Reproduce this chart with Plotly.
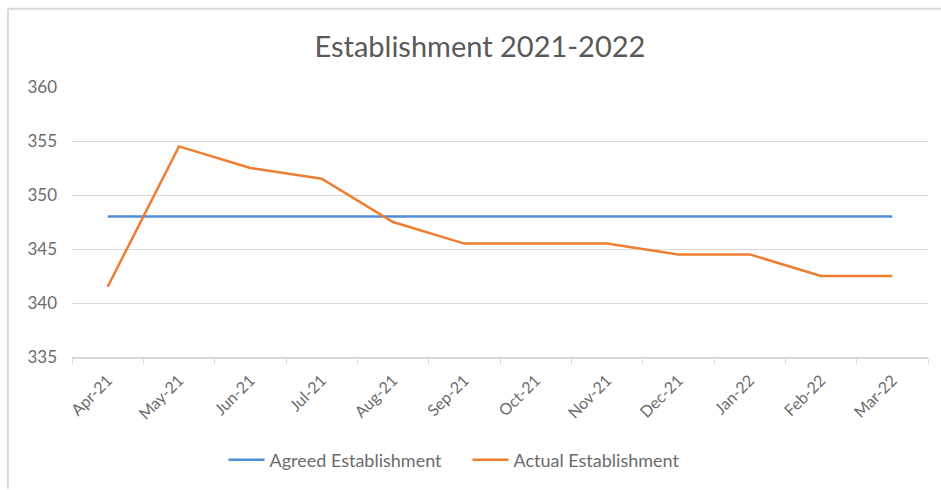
import plotly.graph_objects as go

months = ["Apr-21", "May-21", "Jun-21", "Jul-21", "Aug-21", "Sep-21",
          "Oct-21", "Nov-21", "Dec-21", "Jan-22", "Feb-22", "Mar-22"]
agreed = [348] * 12
actual = [341.5, 354.5, 352.5, 351.5, 347.5, 345.5, 345.5, 345.5, 344.5, 344.5, 342.5, 342.5]
y_ticks = [335, 340, 345, 350, 355, 360]

FONT = "Lato, 'Open Sans', sans-serif"
GREY = "#595959"
TICK_GREY = "#6b6b6b"

fig = go.Figure()
fig.add_trace(go.Scatter(x=months, y=agreed, mode="lines", name="Agreed Establishment",
                         line=dict(color="#4F8FD6", width=2.5)))
fig.add_trace(go.Scatter(x=months, y=actual, mode="lines", name="Actual Establishment",
                         line=dict(color="#ED7D31", width=2.5)))

fig.update_layout(
    width=941, height=490,
    margin=dict(l=72, r=13, t=87, b=131),
    paper_bgcolor="white", plot_bgcolor="white",
    font=dict(family=FONT, color=GREY, size=16),
    title=dict(text="Establishment 2021-2022", x=0.51, xanchor="center",
               y=0.905, yanchor="middle", font=dict(size=29, color=GREY, family=FONT)),
    legend=dict(orientation="h", x=0.462, xanchor="center", y=-0.382, yanchor="middle",
                font=dict(size=18, color=TICK_GREY), itemwidth=36, tracegroupgap=0,
                entrywidth=193, entrywidthmode="pixels"),
    xaxis=dict(type="category", tickangle=-45, showgrid=False, showline=True,
               linecolor="#d9d9d9", linewidth=1.5, ticks="outside", tickson="boundaries",
               ticklen=5, tickcolor="#d9d9d9", tickfont=dict(size=16, color=TICK_GREY),
               ticklabelstandoff=6, range=[-0.5, 11.5]),
    yaxis=dict(range=[335, 360], tickvals=y_ticks, showgrid=True, gridcolor="#d9d9d9",
               gridwidth=1, zeroline=False, showline=False, ticks="",
               tickfont=dict(size=17, color=TICK_GREY), ticklabelstandoff=14),
    shapes=[
        dict(type="line", xref="paper", yref="paper", x0=-0.0748, x1=1.02, y0=1.29, y1=1.29,
             line=dict(color="#d9d9d9", width=2)),
        dict(type="line", xref="paper", yref="paper", x0=-0.0748, x1=-0.0748, y0=-0.49, y1=1.29,
             line=dict(color="#d9d9d9", width=2)),
    ],
)

fig.write_html("out.html", config={"displayModeBar": False},
               post_script="document.body.style.margin='0px';")
